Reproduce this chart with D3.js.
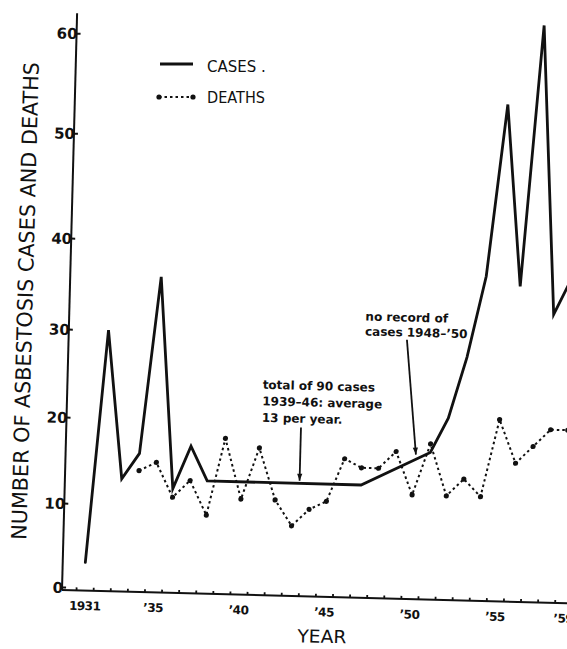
<!DOCTYPE html>
<html>
<head>
<meta charset="utf-8">
<script src="https://cdn.jsdelivr.net/npm/d3@7"></script>
<style>
  body { margin: 0; background: #fff; }
  text { font-family: "DejaVu Sans", sans-serif; font-weight: bold; fill: #111; }
</style>
</head>
<body>
<div id="chart"></div>
<script>
// values
const caseYears  = [1931, 1932, 1933, 1934, 1935, 1936, 1937, 1938, 1947, 1951, 1952, 1953, 1954, 1955, 1956, 1957, 1958, 1959];
const caseCounts = [3, 30, 13, 16, 36, 12, 17, 13, 13, 17, 21, 28, 37, 54, 36, 62, 33, 37];

const deathYears  = d3.range(1934, 1960);
const deathCounts = [14, 15, 11, 13, 9, 18, 11, 17, 11, 8, 10, 11, 16, 15, 15, 17, 12, 18, 12, 14, 12, 21, 16, 18, 20, 20];

const yTicks = [0, 10, 20, 30, 40, 50, 60];
const xLabelYears = [1931, 1935, 1940, 1945, 1950, 1955, 1959];
const xMinorTicks = d3.range(1930.5, 1960.5, 1);

// annotations: text lines and where they sit (year, count)
const noteOneLines = ["total of 90 cases", "1939–46: average", "13 per year."];
const noteOneAt = [1941.1, 23.8];
const noteOneArrow = [[1943.4, 19.5], [1943.4, 13.3]];
const noteTwoLines = ["no record of", "cases 1948–’50"];
const noteTwoAt = [1947.0, 31.8];
const noteTwoArrow = [[1949.46, 29.8], [1950.16, 16.7]];

// frame
const FRAME_WIDTH = 567;
const FRAME_HEIGHT = 649;
const ORIGIN = {x: 62, y: 590};
const TILT = 1.5; // the scanned page sits slightly rotated

const svg = d3.select("#chart")
    .append("svg")
    .attr("width", FRAME_WIDTH)
    .attr("height", FRAME_HEIGHT);

const plot = svg.append("g")
    .attr("transform", "translate(" + ORIGIN.x + "," + ORIGIN.y + ") rotate(" + TILT + ")");

// scales in the plot's own (tilted) frame; the hand drawn y axis is unevenly spaced
const xScale = d3.scaleLinear()
    .domain([1935, 1955])
    .range([91, 433]);
const yScale = d3.scaleLinear()
    .domain(yTicks)
    .range([-3, -87, -173, -261, -352, -457, -557]);

// axis lines
plot.append("line")
    .attr("x1", 0).attr("y1", 0).attr("x2", 0).attr("y2", yScale(62))
    .attr("stroke", "#111").attr("stroke-width", 2);
plot.append("line")
    .attr("x1", 0).attr("y1", 0).attr("x2", 540).attr("y2", 0)
    .attr("stroke", "#111").attr("stroke-width", 2);

// y axis ticks and labels
const yAxis = plot.append("g")
    .attr("color", "#111")
    .call(d3.axisLeft(yScale).tickValues(yTicks).tickSizeInner(-4).tickSizeOuter(0).tickPadding(-1));
yAxis.select(".domain").remove();
yAxis.selectAll("line").attr("stroke-width", 2);
yAxis.selectAll("text").style("font-size", "15px").attr("dy", "0.36em");

// x axis minor ticks (between years) and labels
const xMinor = plot.append("g")
    .attr("color", "#111")
    .call(d3.axisBottom(xScale).tickValues(xMinorTicks).tickSize(-3).tickSizeOuter(0).tickFormat(""));
xMinor.select(".domain").remove();
xMinor.selectAll("line").attr("stroke-width", 1.8);

const xAxis = plot.append("g")
    .call(d3.axisBottom(xScale)
        .tickValues(xLabelYears)
        .tickSize(0)
        .tickPadding(11)
        .tickFormat(d => d === 1931 ? "1931" : "’" + String(d).slice(2)));
xAxis.select(".domain").remove();
xAxis.selectAll("text").style("font-size", "12px").attr("letter-spacing", "-0.5");

// axis titles
plot.append("text")
    .attr("transform", "translate(-37,-288) rotate(-90)")
    .attr("text-anchor", "middle")
    .attr("textLength", 478)
    .attr("lengthAdjust", "spacingAndGlyphs")
    .style("font-size", "21px")
    .style("font-weight", "normal")
    .text("NUMBER OF ASBESTOSIS CASES AND DEATHS");

plot.append("text")
    .attr("x", 261).attr("y", 46)
    .attr("text-anchor", "middle")
    .attr("textLength", 49)
    .attr("lengthAdjust", "spacingAndGlyphs")
    .style("font-size", "18px")
    .style("font-weight", "normal")
    .text("YEAR");

// series
const cases = caseYears.map((yr, i) => ({year: yr, value: caseCounts[i]}));
const deaths = deathYears.map((yr, i) => ({year: yr, value: deathCounts[i]}));

const line = d3.line()
    .x(d => xScale(d.year))
    .y(d => yScale(d.value));

plot.append("path")
    .datum(deaths)
    .attr("fill", "none")
    .attr("stroke", "#111")
    .attr("stroke-width", 2)
    .attr("stroke-dasharray", "2.5,3")
    .attr("d", line);

plot.selectAll(".death")
    .data(deaths)
    .enter()
    .append("circle")
    .attr("class", "death")
    .attr("cx", d => xScale(d.year))
    .attr("cy", d => yScale(d.value))
    .attr("r", 2.6)
    .attr("fill", "#111");

plot.append("path")
    .datum(cases)
    .attr("fill", "none")
    .attr("stroke", "#111")
    .attr("stroke-width", 2.8)
    .attr("stroke-linejoin", "miter")
    .attr("stroke-miterlimit", 6)
    .attr("stroke-linecap", "round")
    .attr("d", line);

// annotations
function addNote(lines, at, arrow, size, gap) {
    const t = plot.append("text")
        .attr("x", xScale(at[0]))
        .attr("y", yScale(at[1]))
        .style("font-size", size + "px");
    lines.forEach((s, i) => {
        t.append("tspan")
            .attr("x", xScale(at[0]))
            .attr("dy", i === 0 ? 0 : gap)
            .text(s);
    });
    const x1 = xScale(arrow[0][0]), y1 = yScale(arrow[0][1]);
    const x2 = xScale(arrow[1][0]), y2 = yScale(arrow[1][1]);
    plot.append("line")
        .attr("x1", x1).attr("y1", y1).attr("x2", x2).attr("y2", y2)
        .attr("stroke", "#111").attr("stroke-width", 1.8);
    const ang = Math.atan2(y2 - y1, x2 - x1);
    const len = 7, half = 2.6;
    const bx = x2 - len * Math.cos(ang), by = y2 - len * Math.sin(ang);
    plot.append("path")
        .attr("d", "M" + x2 + "," + y2 +
            "L" + (bx + half * Math.sin(ang)) + "," + (by - half * Math.cos(ang)) +
            "L" + (bx - half * Math.sin(ang)) + "," + (by + half * Math.cos(ang)) + "Z")
        .attr("fill", "#111");
}
addNote(noteOneLines, noteOneAt, noteOneArrow, 12, 16.5);
addNote(noteTwoLines, noteTwoAt, noteTwoArrow, 12, 15);

// legend (drawn flat on the page)
const legend = svg.append("g");
legend.append("line")
    .attr("x1", 160).attr("y1", 64).attr("x2", 193).attr("y2", 64)
    .attr("stroke", "#111").attr("stroke-width", 2.8);
legend.append("text")
    .attr("x", 207).attr("y", 72)
    .style("font-size", "15px")
    .style("font-weight", "normal")
    .text("CASES .");
legend.append("line")
    .attr("x1", 159).attr("y1", 97).attr("x2", 193).attr("y2", 97)
    .attr("stroke", "#111").attr("stroke-width", 2)
    .attr("stroke-dasharray", "2.5,3");
legend.selectAll(".ldot")
    .data([159, 193])
    .enter()
    .append("circle")
    .attr("cx", d => d)
    .attr("cy", 97)
    .attr("r", 2.6)
    .attr("fill", "#111");
legend.append("text")
    .attr("x", 207).attr("y", 103)
    .attr("textLength", 58)
    .attr("lengthAdjust", "spacingAndGlyphs")
    .style("font-size", "15px")
    .style("font-weight", "normal")
    .text("DEATHS");
</script>
</body>
</html>
